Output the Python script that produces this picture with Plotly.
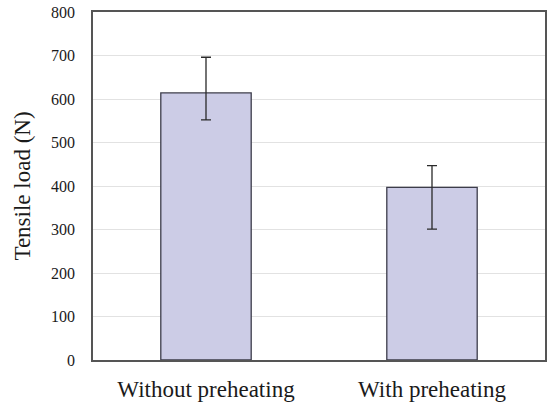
import plotly.graph_objects as go

# Tensile load of joints, with and without preheating
conditions = ["Without preheating", "With preheating"]
mean_load = [614, 397]
err_plus = [82, 50]
err_minus = [62, 96]

y_ticks = [0, 100, 200, 300, 400, 500, 600, 700, 800]

fig = go.Figure()
fig.add_trace(go.Bar(
    x=conditions,
    y=mean_load,
    marker=dict(color="#cccce6", line=dict(color="#3c3c4a", width=1.3)),
    error_y=dict(type="data", symmetric=False, array=err_plus, arrayminus=err_minus,
                 color="#2a2a2a", thickness=1.3, width=5),
    showlegend=False,
))

serif = "Liberation Serif, Times New Roman, serif"
fig.update_layout(
    width=549, height=404,
    margin=dict(l=93, r=2, t=12, b=44),
    paper_bgcolor="white",
    plot_bgcolor="white",
    bargap=0.6,
    font=dict(family=serif, color="#1a1a1a"),
    xaxis=dict(
        showline=True, mirror=True, linecolor="#555555", linewidth=1.5,
        tickfont=dict(size=23, family=serif),
        ticks="", ticklabelstandoff=8,
    ),
    yaxis=dict(
        range=[0, 800], tickvals=y_ticks,
        showline=True, mirror=True, linecolor="#555555", linewidth=1.5,
        showgrid=True, gridcolor="#e2e2e2", gridwidth=1,
        zeroline=False,
        ticks="", ticklabelstandoff=13,
        tickfont=dict(size=16, family=serif),
        title=dict(text="Tensile load (N)", font=dict(size=23, family=serif), standoff=14),
    ),
)

fig.write_html("out.html")
